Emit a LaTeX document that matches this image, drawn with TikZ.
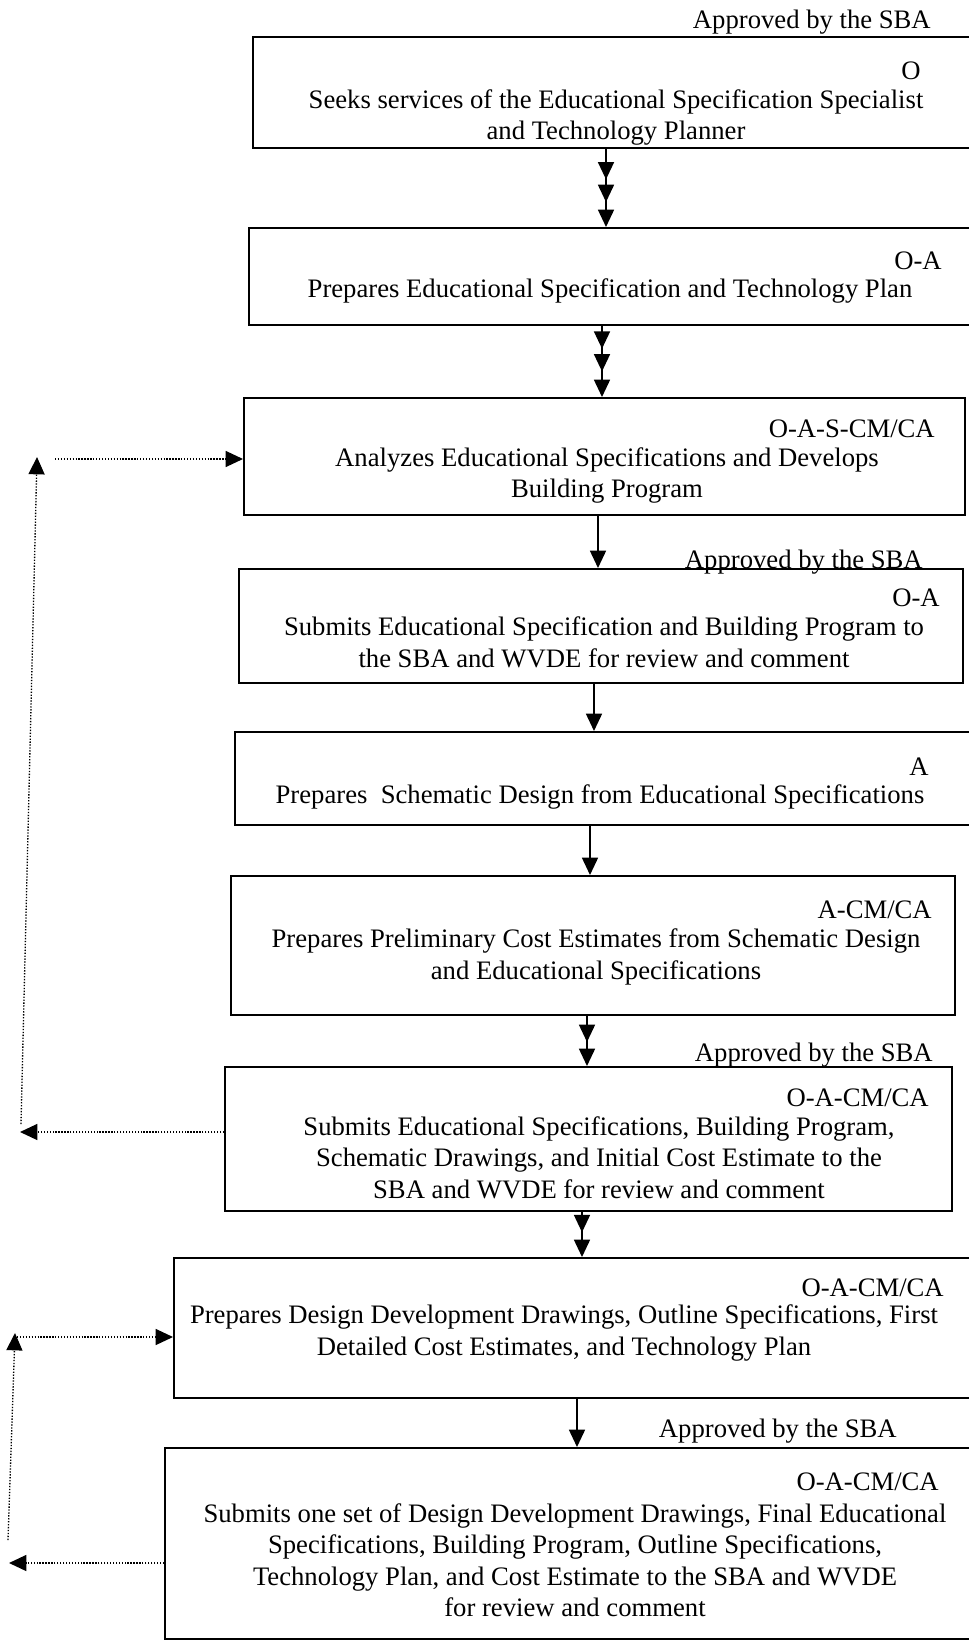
\documentclass[tikz,border=0pt]{standalone}
\usepackage{fontspec}
\setmainfont{Liberation Serif}
\usetikzlibrary{arrows.meta,fit,decorations.markings}
\tikzset{
  tri/.tip={Triangle[length=13pt,width=12pt]},
  box/.style={draw, line width=1.5pt, inner sep=0pt, rectangle},
  conn/.style={line width=1.2pt},
  dotc/.style={line width=1pt, dash pattern=on 1pt off 1.2pt},
  midhead/.style={postaction={decorate,decoration={markings,mark=at position #1 with {\arrow{tri}}}}},
  txt/.style={font=\fontsize{20}{23.6}\selectfont, align=center, inner sep=0pt, yshift=-1.5pt},
  lab/.style={font=\fontsize{20}{24}\selectfont, inner sep=0pt, anchor=mid east, yshift=-4.5pt},
}
\begin{document}
\begin{tikzpicture}[x=0.75pt,y=-0.75pt]
\useasboundingbox (0,0) rectangle (969,1644);
% boxes
\node[box, fit={(253,37) (975,148)}] (b1) {};
\node[box, fit={(249,228) (975,325)}] (b2) {};
\node[box, fit={(244,398) (965,515)}] (b3) {};
\node[box, fit={(239,569) (963,683)}] (b4) {};
\node[box, fit={(235,732) (975,825)}] (b5) {};
\node[box, fit={(231,876) (955,1015)}] (b6) {};
\node[box, fit={(225,1067) (952,1211)}] (b7) {};
\node[box, fit={(174,1258) (975,1398)}] (b8) {};
\node[box, fit={(165,1448) (975,1639)}] (b9) {};
% approval notes
\node[lab] (ap1) at (931,19) {Approved by the SBA};
\node[lab] (ap2) at (923,559) {Approved by the SBA};
\node[lab] (ap3) at (933,1052) {Approved by the SBA};
\node[lab] (ap4) at (897,1428) {Approved by the SBA};
% role labels
\node[lab] (l1) at (921,70) {O};
\node[lab] (l2) at (942,260) {O-A};
\node[lab] (l3) at (935,428) {O-A-S-CM/CA};
\node[lab] (l4) at (940,597) {O-A};
\node[lab] (l5) at (929,766) {A};
\node[lab] (l6) at (932,909) {A-CM/CA};
\node[lab] (l7) at (929,1097) {O-A-CM/CA};
\node[lab] (l8) at (944,1287) {O-A-CM/CA};
\node[lab] (l9) at (939,1481) {O-A-CM/CA};
% texts
\node[txt] (t1) at (616,115.5) {Seeks services of the Educational Specification Specialist\\and Technology Planner};
\node[txt] (t2) at (610,289) {Prepares Educational Specification and Technology Plan};
\node[txt] (t3) at (607,473.5) {Analyzes Educational Specifications and Develops\\Building Program};
\node[txt] (t4) at (604,640.5) {Submits Educational Specification and Building Program to\\the SBA and WVDE for review and comment};
\node[txt] (t5) at (600,795) {Prepares\ \ Schematic Design from Educational Specifications};
\node[txt] (t6) at (596,955) {Prepares Preliminary Cost Estimates from Schematic Design\\and Educational Specifications};
\node[txt] (t7) at (599,1155.5) {Submits Educational Specifications, Building Program,\\Schematic Drawings, and Initial Cost Estimate to the\\SBA and WVDE for review and comment};
\node[txt] (t8) at (564,1331) {Prepares Design Development Drawings, Outline Specifications, First\\Detailed Cost Estimates, and Technology Plan};
\node[txt] (t9) at (575,1558) {Submits one set of Design Development Drawings, Final Educational\\Specifications, Building Program, Outline Specifications,\\Technology Plan, and Cost Estimate to the SBA and WVDE\\for review and comment};
% arrow columns
\coordinate (x1) at (606,0);
\coordinate (x2) at (602,0);
\coordinate (x3) at (598,0);
\coordinate (x4) at (594,0);
\coordinate (x5) at (590,0);
\coordinate (x6) at (587,0);
\coordinate (x7) at (582,0);
\coordinate (x8) at (577,0);
\draw[conn,-{tri},midhead=0.39,midhead=0.68] (b1.south -| x1) -- (b2.north -| x1);
\draw[conn,-{tri},midhead=0.32,midhead=0.64] (b2.south -| x2) -- (b3.north -| x2);
\draw[conn,-{tri}] (b3.south -| x3) -- (b4.north -| x3);
\draw[conn,-{tri}] (b4.south -| x4) -- (b5.north -| x4);
\draw[conn,-{tri}] (b5.south -| x5) -- (b6.north -| x5);
\draw[conn,-{tri},midhead=0.52] (b6.south -| x6) -- (b7.north -| x6);
\draw[conn,-{tri},midhead=0.45] (b7.south -| x7) -- (b8.north -| x7);
\draw[conn,-{tri}] (b8.south -| x8) -- (b9.north -| x8);
% dotted feedback loop A
\coordinate (A1) at (20,1132);
\coordinate (A2) at (21,1124);
\coordinate (A3) at (37,457);
\coordinate (A4) at (55,459);
\draw[dotc,-{tri}] (b7.west |- A1) -- (A1);
\draw[dotc,-{tri}] (A2) -- (A3);
\draw[dotc,-{tri}] (A4) -- (A4 -| b3.west);
% dotted feedback loop B
\coordinate (B1) at (9,1563);
\coordinate (B2) at (8,1540);
\coordinate (B3) at (15,1333);
\coordinate (B4) at (17,1337);
\draw[dotc,-{tri}] (b9.west |- B1) -- (B1);
\draw[dotc,-{tri}] (B2) -- (B3);
\draw[dotc,-{tri}] (B4) -- (B4 -| b8.west);
\end{tikzpicture}
\end{document}
